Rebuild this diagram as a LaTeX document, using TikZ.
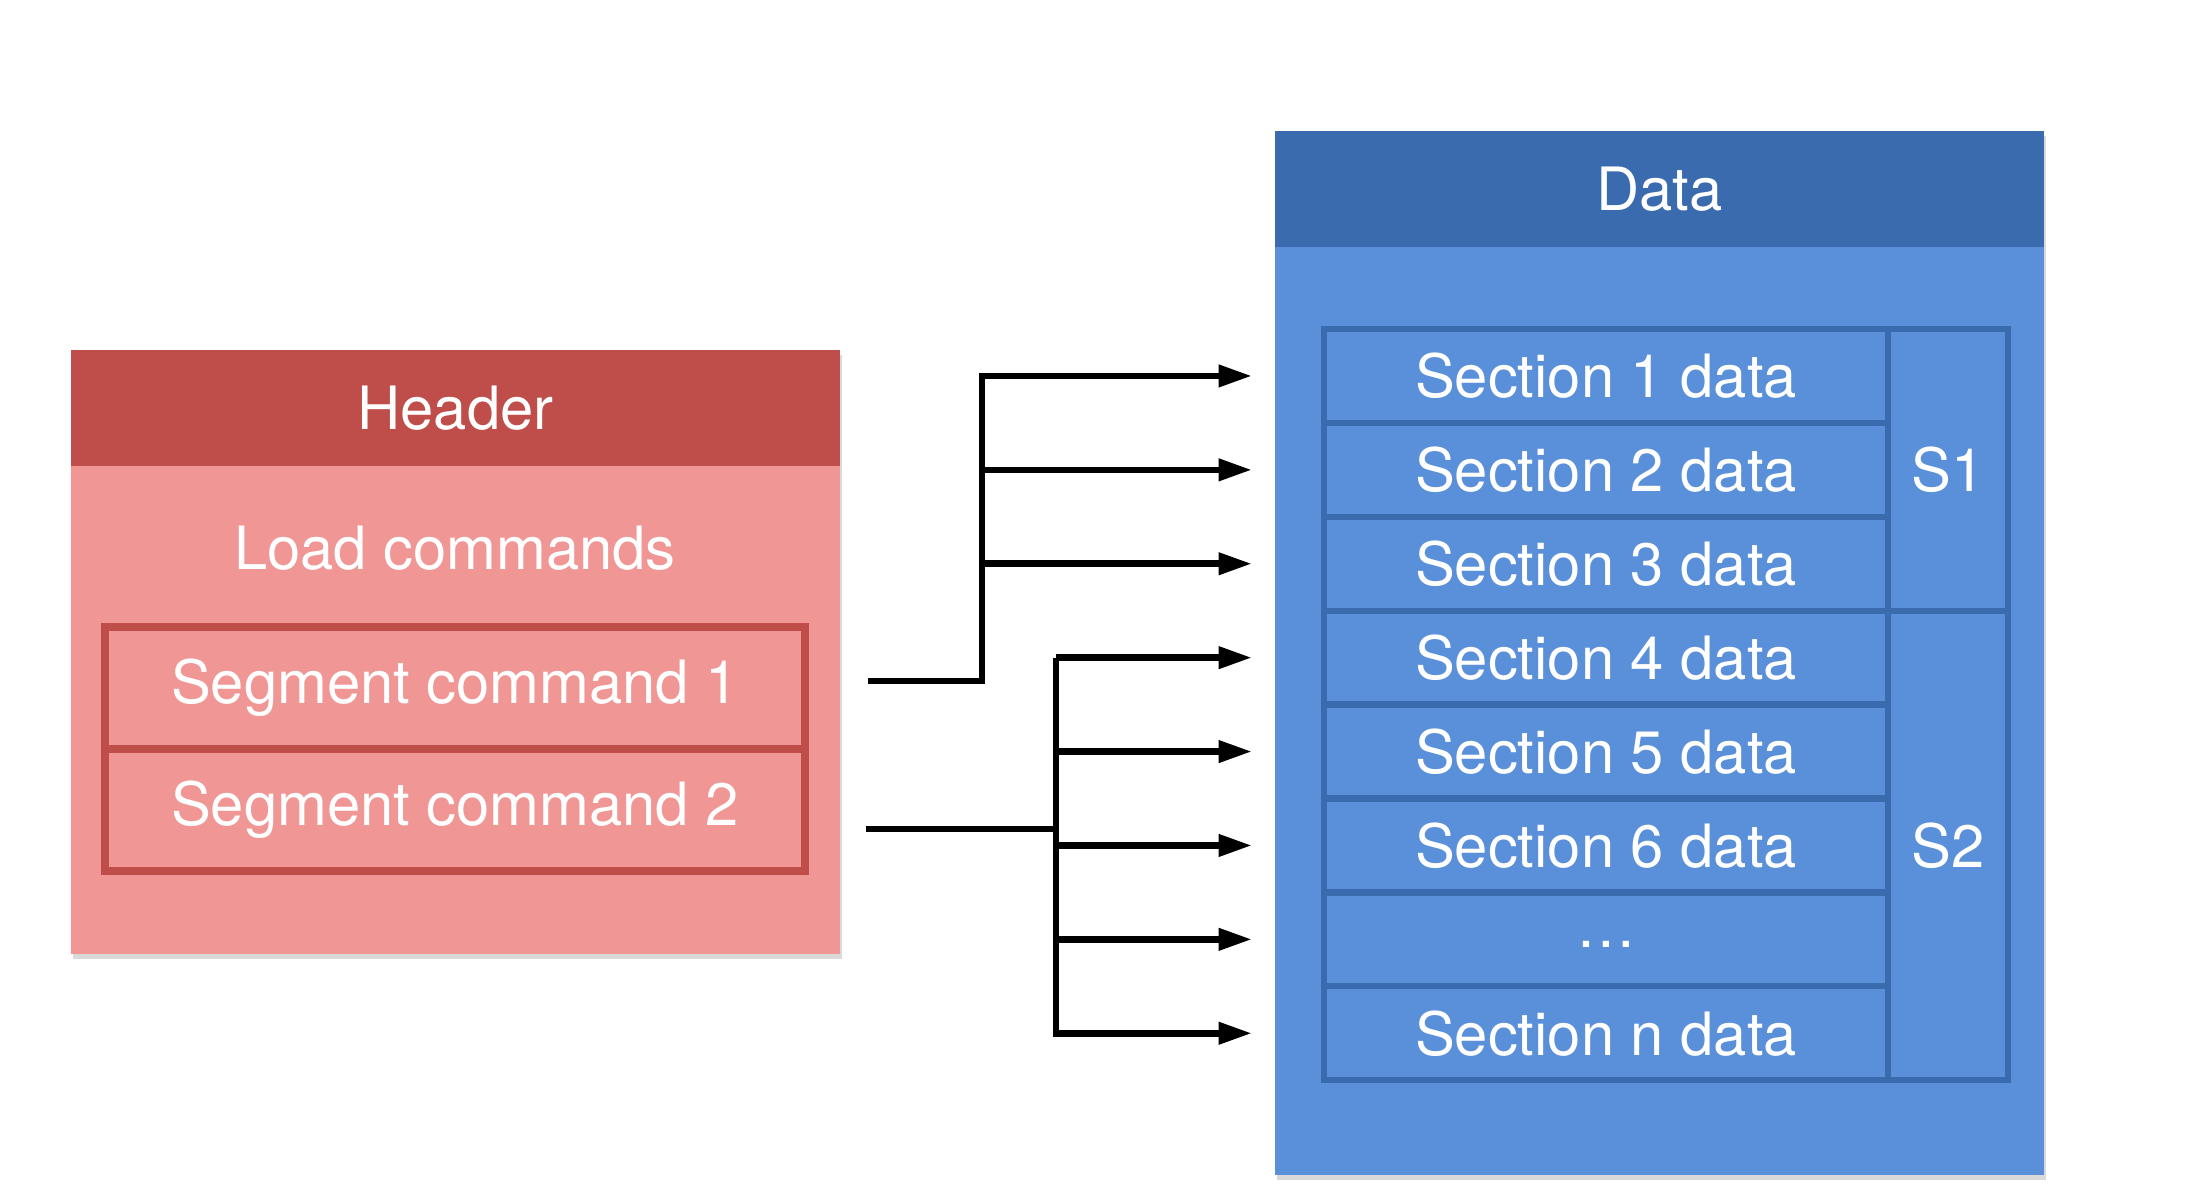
\documentclass[tikz,border=0pt]{standalone}
\usepackage{fontspec}
\setmainfont{TeX Gyre Heros}
\usetikzlibrary{positioning,arrows.meta,calc,shadows}
\definecolor{hdrred}{RGB}{191,78,75}
\definecolor{hdrpink}{RGB}{240,151,149}
\definecolor{datdark}{RGB}{58,107,175}
\definecolor{datblue}{RGB}{90,144,218}

\begin{document}
\begin{tikzpicture}[
            node distance=0pt,
            outer sep=0pt,
            inner sep=0pt,
            % white label text
            txt/.style={
                text=white,
                font=\fontsize{17}{20}\selectfont
            },
            % big panel (header / data)
            panel/.style={
                anchor=north west,
                minimum width=7.69cm,
                drop shadow={shadow xshift=0.6pt, shadow yshift=-1.5pt, opacity=0.3}
            },
            % title band of a panel
            band/.style={
                anchor=north,
                minimum width=7.69cm,
                minimum height=1.16cm,
                txt
            },
            % segment command box
            segbox/.style={
                draw=hdrred,
                line width=2pt,
                fill=hdrpink,
                minimum width=7.0cm,
                minimum height=1.22cm,
                txt
            },
            % section data cell
            seccell/.style={
                draw=datdark,
                line width=1.8pt,
                fill=datblue,
                minimum width=5.64cm,
                minimum height=0.939cm,
                anchor=north west,
                txt
            },
            % segment group column (S1, S2)
            sgroup/.style={
                draw=datdark,
                line width=1.8pt,
                fill=datblue,
                minimum width=1.2cm,
                anchor=north west,
                txt
            },
            link/.style={line width=1.9pt, -{Triangle[length=9.5pt,width=6pt]}}
        ]
            \useasboundingbox (0,0) rectangle (21.88,-11.98);

            % --- HEADER / LOAD COMMANDS ---
            \node[panel, fill=hdrpink, minimum height=6.04cm] (head) at (0.71,-3.50) {};
            \node[band, fill=hdrred] (headbar) at (head.north) {Header};
            \node[txt] (load) at (4.55,-5.48) {Load commands};

            \node[segbox] (seg1) at (4.55,-6.88) {Segment command 1};
            \node[segbox, below=0pt of seg1] (seg2) {Segment command 2};

            % --- DATA ---
            \node[panel, fill=datblue, minimum height=10.44cm] (data) at (12.75,-1.31) {};
            \node[band, fill=datdark] (databar) at (data.north) {Data};

            \node[seccell] (sec1) at (13.24,-3.29) {Section 1 data};
            \node[seccell] (sec2) at (sec1.south west) {Section 2 data};
            \node[seccell] (sec3) at (sec2.south west) {Section 3 data};
            \node[seccell] (sec4) at (sec3.south west) {Section 4 data};
            \node[seccell] (sec5) at (sec4.south west) {Section 5 data};
            \node[seccell] (sec6) at (sec5.south west) {Section 6 data};
            \node[seccell] (secdots) at (sec6.south west) {\raisebox{-0.5ex}{\dots}};
            \node[seccell] (secn) at (secdots.south west) {Section n data};

            % S1 covers sections 1-3, S2 the rest
            \node[sgroup, minimum height=2.817cm] (s1) at (sec1.north east) {S1};
            \node[sgroup, minimum height=4.695cm] (s2) at (s1.south west) {S2};

            % --- ARROWS ---
            \coordinate (tip) at (12.52,0);
            \coordinate (src1) at (8.68,-6.81);
            \coordinate (fork1) at (9.82,-6.81);
            \coordinate (src2) at (8.66,-8.29);
            \coordinate (fork2) at (10.56,-8.29);

            % segment 1 -> sections 1..3
            \draw[link] (src1) -- (fork1) -- (fork1 |- sec1.west) -- (sec1.west -| tip);
            \draw[link] (fork1 |- sec2.west) -- (sec2.west -| tip);
            \draw[link] (fork1 |- sec3.west) -- (sec3.west -| tip);

            % segment 2 -> sections 4..n
            \draw[line width=1.9pt] (src2) -- (fork2);
            \draw[link] (fork2 |- sec4.west) |- (secn.west -| tip);
            \draw[link] (fork2 |- sec4.west) -- (sec4.west -| tip);
            \draw[link] (fork2 |- sec5.west) -- (sec5.west -| tip);
            \draw[link] (fork2 |- sec6.west) -- (sec6.west -| tip);
            \draw[link] (fork2 |- secdots.west) -- (secdots.west -| tip);

        \end{tikzpicture}
\end{document}
